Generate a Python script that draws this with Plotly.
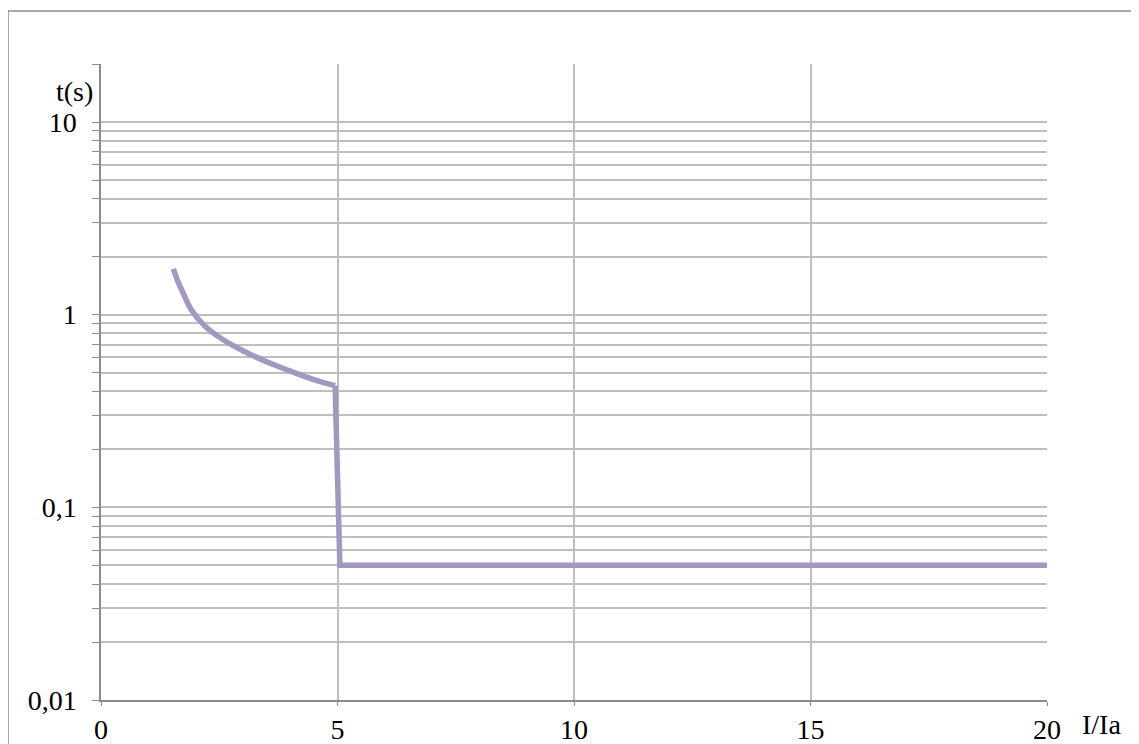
import plotly.graph_objects as go
import math

# Curve part
curve_x = [1.53, 1.63, 1.74, 1.92, 2.20, 2.55, 3.00, 3.50, 4.00, 4.50, 4.95]
curve_y = [1.73, 1.48, 1.29, 1.05, 0.87, 0.75, 0.65, 0.57, 0.51, 0.46, 0.428]
# Step part
step_x = [4.95, 5.05, 20]
step_y = [0.428, 0.05, 0.05]

x_ticks = [0, 5, 10, 15, 20]
y_major = [0.01, 0.1, 1, 10]
y_major_text = ["0,01", "0,1", "1", "10"]
y_minor = [m * d for d in [0.01, 0.1, 1] for m in range(2, 10)] + [20]

line_color = "#A497C0"
grid_color = "#BFBFBF"
axis_color = "#8C8C8C"
font_family = "Liberation Serif"
fs = 28

# page body has an 8px offset; compensate in the margins
L, T, PW, PH = 93, 56, 946, 636

fig = go.Figure()
fig.add_trace(go.Scatter(x=curve_x, y=curve_y, mode="lines",
                         line=dict(color=line_color, width=5.5, shape="spline", smoothing=1),
                         showlegend=False))
fig.add_trace(go.Scatter(x=step_x, y=step_y, mode="lines",
                         line=dict(color=line_color, width=5.5),
                         showlegend=False))

fig.update_layout(
    width=1139, height=744,
    margin=dict(l=L, r=1139 - L - PW, t=T, b=744 - T - PH),
    paper_bgcolor="white", plot_bgcolor="white",
    font=dict(family=font_family, size=fs, color="black"),
    xaxis=dict(range=[0, 20], tickvals=x_ticks, showgrid=True,
               gridcolor=grid_color, gridwidth=1.5,
               showline=True, linecolor=axis_color, linewidth=1.5,
               ticks="outside", ticklen=4, tickcolor=axis_color,
               zeroline=False, ticklabelstandoff=0, automargin=False),
    yaxis=dict(type="log", range=[-2, math.log10(20)],
               tickvals=y_major, ticktext=y_major_text,
               showgrid=True, gridcolor=grid_color, gridwidth=1.5,
               showline=True, linecolor=axis_color, linewidth=1.5,
               ticks="outside", ticklen=7, tickcolor=axis_color,
               zeroline=False, ticklabelstandoff=10, automargin=False,
               minor=dict(tickvals=y_minor, showgrid=True,
                          gridcolor=grid_color, gridwidth=1.5,
                          ticks="outside", ticklen=7, tickcolor=axis_color)),
    annotations=[
        dict(text="t(s)", xref="paper", yref="paper",
             x=(95 - 101) / PW, y=(700 - 91) / PH,
             xanchor="right", yanchor="middle", showarrow=False,
             font=dict(family=font_family, size=fs, color="black")),
        dict(text="I/Ia", xref="paper", yref="paper",
             x=(1101 - 101) / PW, y=(700 - 724) / PH,
             xanchor="center", yanchor="middle", showarrow=False,
             font=dict(family=font_family, size=fs, color="black")),
    ],
    shapes=[
        dict(type="rect", xref="paper", yref="paper",
             x0=(8 - 101) / PW, x1=(1160 - 101) / PW,
             y0=(700 - 770) / PH, y1=(700 - 11) / PH,
             line=dict(color="#8C8C8C", width=1.5), layer="below"),
    ],
)

fig.write_html("out.html")
